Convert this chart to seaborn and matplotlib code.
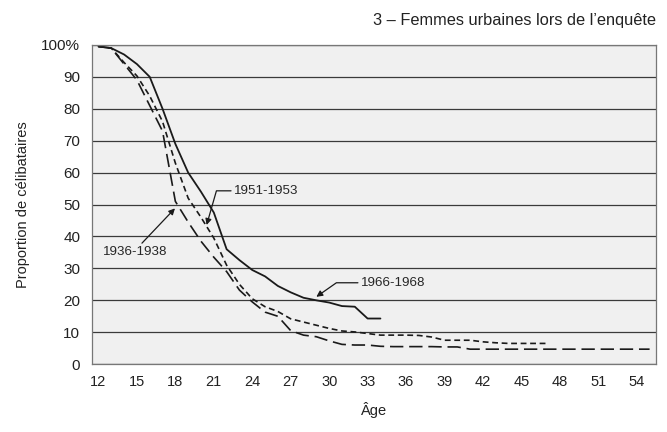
import matplotlib
matplotlib.use('Agg')
import matplotlib.pyplot as plt
from matplotlib.ticker import FixedLocator, FuncFormatter
import numpy as np
import pandas as pd
import seaborn as sns

sns.set_theme(style='white')
plt.rcParams['font.family'] = ['Liberation Sans', 'DejaVu Sans']

# proportion of never-married women by age, three birth cohorts
ages_1936 = list(range(12, 56))
single_1936 = [99.5, 99, 94, 89, 81, 73, 51, 44.5, 38.5, 33.5, 29, 23.2, 19.5, 16.3, 15,
               10.5, 9.1, 8.6, 7.3, 6.2, 6, 6, 5.6, 5.5, 5.5, 5.5, 5.5, 5.4, 5.4, 4.7,
               4.7, 4.7, 4.7, 4.7, 4.7, 4.7, 4.7, 4.7, 4.7, 4.7, 4.7, 4.7, 4.7, 4.7]

ages_1951 = list(range(12, 48))
single_1951 = [99.5, 99, 94.5, 90.3, 84, 76, 63, 52, 46, 39.5, 31, 25, 20.5, 18, 16.5,
               14.2, 13.2, 12.2, 11.2, 10.4, 10.1, 9.6, 9.1, 9.1, 9.1, 9, 8.5, 7.5, 7.5,
               7.5, 7, 6.7, 6.5, 6.5, 6.5, 6.5]

ages_1966 = list(range(12, 35))
single_1966 = [99.5, 99, 97, 94, 90, 80, 69, 60, 54, 47.5, 36, 32.6, 29.5, 27.5, 24.5,
               22.5, 20.8, 20, 19.3, 18.2, 18, 14.3, 14.3]

y_ticks = [0, 10, 20, 30, 40, 50, 60, 70, 80, 90, 100]
x_labels = list(range(12, 55, 3))

df_1936 = pd.DataFrame({'age': ages_1936, 'single': single_1936})
df_1951 = pd.DataFrame({'age': ages_1951, 'single': single_1951})
df_1966 = pd.DataFrame({'age': ages_1966, 'single': single_1966})

fig = plt.figure(figsize=(6.67, 4.32), dpi=100)
ax = fig.add_axes([0.138, 0.157, 0.8455, 0.739])
ax.set_facecolor('#f0f0f0')

line_color = '#1a1a1a'
sns.lineplot(data=df_1936, x='age', y='single', ax=ax, color=line_color, linewidth=1.2)
ax.lines[-1].set_dashes([8, 3.5])
sns.lineplot(data=df_1951, x='age', y='single', ax=ax, color=line_color, linewidth=1.2)
ax.lines[-1].set_dashes([3.5, 2.2])
sns.lineplot(data=df_1966, x='age', y='single', ax=ax, color=line_color, linewidth=1.3)

ax.set_xlim(11.5, 55.5)
ax.set_ylim(0, 100)

ax.set_yticks(y_ticks)
ax.yaxis.set_major_formatter(FuncFormatter(lambda v, _: '100%' if v == 100 else f'{v:.0f}'))
ax.grid(axis='y', color='#3a3a3a', linewidth=0.9)
ax.set_axisbelow(True)

ax.set_xticks(x_labels)
ax.xaxis.set_minor_locator(FixedLocator(np.arange(11.5, 56, 1)))
ax.tick_params(axis='x', which='major', length=0, labelsize=10.5, pad=8, colors='#222222')
ax.tick_params(axis='x', which='minor', length=4, width=0.8, color='#555555', direction='out')
ax.tick_params(axis='y', which='major', length=5, width=0.8, labelsize=11, colors='#222222')
ax.tick_params(axis='y', which='major', color='#555555')
for side in ['left', 'bottom', 'right', 'top']:
    ax.spines[side].set_color('#777777')
    ax.spines[side].set_linewidth(0.9)

ax.set_xlabel('Âge', fontsize=10.5, labelpad=9, color='#222222')
ax.set_ylabel('Proportion de célibataires', fontsize=10.5, labelpad=8, color='#222222')

arrow = dict(arrowstyle='-|>', color=line_color, lw=0.9, mutation_scale=9, shrinkA=0, shrinkB=0)
ax.annotate('1951-1953', xy=(20.44, 43.6), xytext=(22.6, 54.3), fontsize=9.6, va='center', ha='left',
            arrowprops=dict(arrow, relpos=(0, 0.5), connectionstyle='angle,angleA=0,angleB=74,rad=0'))
ax.annotate('1936-1938', xy=(17.97, 48.8), xytext=(14.9, 35.0), fontsize=9.6, va='center', ha='center',
            arrowprops=dict(arrow, relpos=(0.55, 1)))
ax.annotate('1966-1968', xy=(29.0, 21.1), xytext=(32.5, 25.5), fontsize=9.6, va='center', ha='left',
            arrowprops=dict(arrow, relpos=(0, 0.5), connectionstyle='angle,angleA=0,angleB=35,rad=0'))

fig.text(0.984, 0.952, '3 – Femmes urbaines lors de l’enquête', ha='right', va='center',
         fontsize=11.8, color='#222222')

fig.savefig('out.png', dpi=100)
plt.close(fig)
